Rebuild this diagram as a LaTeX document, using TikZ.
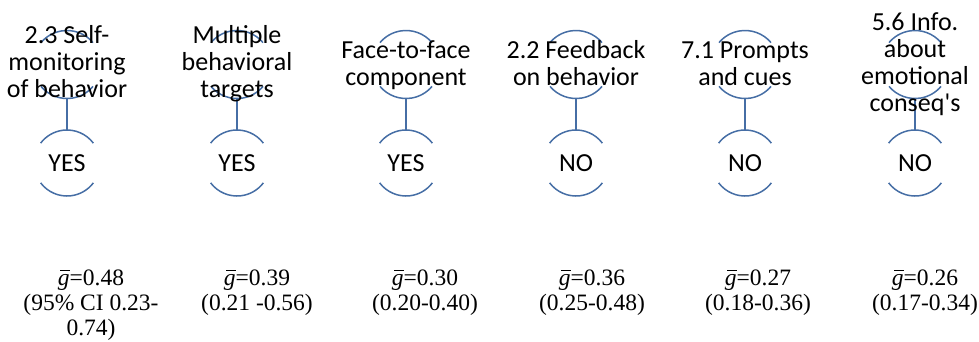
\documentclass[tikz,border=0pt]{standalone}
\usepackage{fontspec}
\newfontfamily\labfont{Carlito}
\newfontfamily\statfont{Liberation Serif}
\definecolor{ringblue}{RGB}{70,110,165}
\newcommand\gbar{\makebox[0pt][l]{\hspace{0.1em}\rule[0.6em]{0.42em}{0.06em}}\textit{g}}
\newcommand\lines[1]{\begin{tabular}[t]{@{}c@{}}#1\end{tabular}}
\begin{document}
\begin{tikzpicture}[x=1pt,y=1pt,
  ring/.style={circle, minimum size=#1, inner sep=0pt, outer sep=0pt,
    font=\labfont\fontsize{26}{27}\selectfont},
  ringline/.style={draw=ringblue, line width=1.5pt},
  lab/.style={anchor=base, inner sep=0pt, font=\labfont\fontsize{26}{27}\selectfont},
  stat/.style={anchor=base, inner sep=0pt, font=\statfont\fontsize{23.5}{25}\selectfont}]
\useasboundingbox (0,0) rectangle (979,-341);

% top rings (empty) and bottom rings (answers)
\node[ring=68] (t1) at (67,-64.5) {};
\node[ring=68] (t2) at (237,-64.5) {};
\node[ring=68] (t3) at (406,-64.5) {};
\node[ring=68] (t4) at (576,-64.5) {};
\node[ring=68] (t5) at (745,-64.5) {};
\node[ring=68] (t6) at (915,-64.5) {};

\node[ring=66] (b1) at (67,-163) {YES};
\node[ring=66] (b2) at (237,-163) {YES};
\node[ring=66] (b3) at (406,-163) {YES};
\node[ring=66] (b4) at (576,-163) {NO};
\node[ring=66] (b5) at (745,-163) {NO};
\node[ring=66] (b6) at (915,-163) {NO};

\foreach \i in {1,...,6}{
  \draw[ringline] (t\i.40) arc[start angle=40, end angle=140, radius=34pt];
  \draw[ringline] (t\i.220) arc[start angle=220, end angle=320, radius=34pt];
  \draw[ringline] (b\i.37) arc[start angle=37, end angle=143, radius=33pt];
  \draw[ringline] (b\i.217) arc[start angle=217, end angle=323, radius=33pt];
  \draw[ringline] (t\i.south) -- (b\i.north);
}

% labels on top rings
\node[lab] (l1) at (67,-43.5) {\lines{2.3 Self-\\monitoring\\of behavior}};
\node[lab] (l2) at (237,-43.5) {\lines{Multiple\\behavioral\\targets}};
\node[lab] (l3) at (406,-58) {\lines{Face-to-face\\component}};
\node[lab] (l4) at (576,-58) {\lines{2.2 Feedback\\on behavior}};
\node[lab] (l5) at (745,-58) {\lines{7.1 Prompts\\and cues}};
\node[lab] (l6) at (915,-30.5) {\lines{5.6 Info.\\about\\emotional\\conseq's}};

% effect sizes
\node[stat] (s1) at (91,-285.5) {\lines{\gbar=0.48\\(95\% CI 0.23-\\0.74)}};
\node[stat] (s2) at (257,-285.5) {\lines{\gbar=0.39\\(0.21 -0.56)}};
\node[stat] (s3) at (425,-285.5) {\lines{\gbar=0.30\\(0.20-0.40)}};
\node[stat] (s4) at (592,-285.5) {\lines{\gbar=0.36\\(0.25-0.48)}};
\node[stat] (s5) at (758,-285.5) {\lines{\gbar=0.27\\(0.18-0.36)}};
\node[stat] (s6) at (925,-285.5) {\lines{\gbar=0.26\\(0.17-0.34)}};
\end{tikzpicture}
\end{document}
